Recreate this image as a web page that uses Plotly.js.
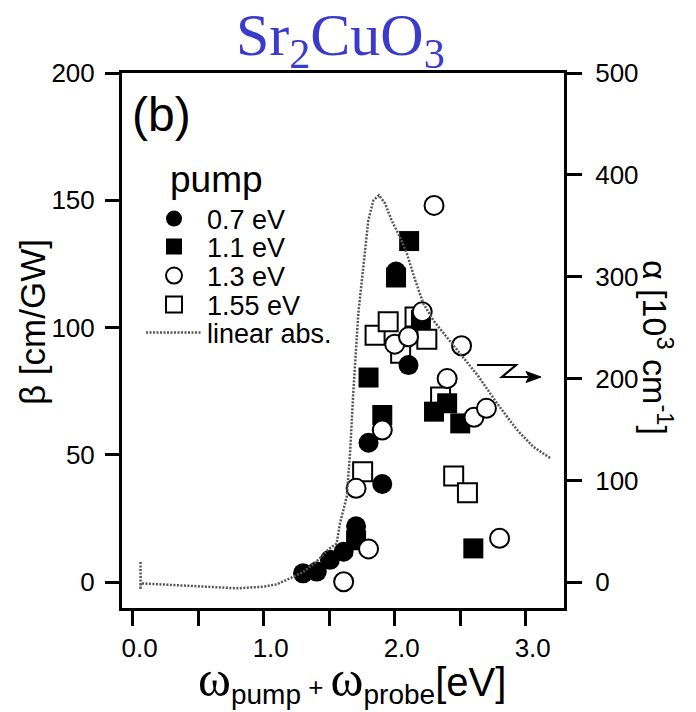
<!DOCTYPE html>
<html>
<head>
<meta charset="utf-8">
<script src="https://cdn.plot.ly/plotly-3.0.1.min.js"></script>
<style>
  html, body { margin: 0; padding: 0; background: #fff; }
  #chart { width: 696px; height: 712px; }
</style>
</head>
<body>
<div id="chart"></div>
<script>
// Two-photon absorption coefficient beta vs. summed photon energy, per pump energy
const pump07_x = [1.30, 1.405, 1.505, 1.61, 1.705, 1.80, 1.905, 2.01, 2.105];
const pump07_y = [3.5, 4.2, 8.8, 12, 22, 54.8, 38.6, 122, 85.3];

const pump11_x = [1.705, 1.80, 1.905, 2.01, 2.11, 2.20, 2.30, 2.40, 2.50, 2.60];
const pump11_y = [16.5, 80.4, 65.7, 119.7, 134, 103, 67, 70.3, 62.4, 13.3];

const pump13_x = [1.61, 1.80, 1.705, 1.905, 2.00, 2.105, 2.21, 2.30, 2.40, 2.51, 2.605, 2.70, 2.80];
const pump13_y = [0.2, 13.1, 36.9, 59.8, 93.5, 96.4, 106.2, 148, 80, 92.9, 64.8, 68.3, 17.3];

const pump155_x = [1.755, 1.85, 1.95, 2.045, 2.155, 2.245, 2.35, 2.45, 2.555];
const pump155_y = [43.4, 97, 102.3, 89.9, 104.2, 95.4, 72.8, 41.7, 35.2];

// Linear absorption spectrum alpha [10^3 cm^-1] (right axis)
const absE = [0.06, 0.06, 0.06, 0.2, 0.4, 0.6, 0.8, 1.0, 1.1, 1.2, 1.3, 1.4, 1.5, 1.557, 1.58, 1.61, 1.634, 1.659, 1.684, 1.722, 1.76, 1.798, 1.837, 1.88, 1.926, 1.977, 2.04, 2.092, 2.155, 2.218, 2.295, 2.397, 2.524, 2.64, 2.779, 2.931, 3.058, 3.186];
const absA = [20, -7, -1, -2, -3.3, -5, -5.9, -4.3, -2, 3.9, 10, 20, 33, 38, 57, 72, 84, 127, 187, 264, 313, 355, 375, 380, 372, 355, 339, 323, 297, 274, 257, 241, 221, 202, 176, 150, 133, 122];

const seriesNames = ['0.7 eV', '1.1 eV', '1.3 eV', '1.55 eV', 'linear abs.'];
const xTickVals = [0, 1, 2, 3];
const yTickVals = [0, 50, 100, 150, 200];
const y2TickVals = [0, 100, 200, 300, 400, 500];

const SANS = 'Liberation Sans, Arial, Helvetica, sans-serif';
const SERIF = 'Liberation Serif, Times New Roman, serif';

const openLine = { color: '#000', width: 2 };

const traces = [
  { x: pump155_x, y: pump155_y, name: seriesNames[3], type: 'scatter', mode: 'markers',
    marker: { symbol: 'square', size: 19, color: '#fff', line: openLine }, legend: 'legend4' },
  { x: pump11_x, y: pump11_y, name: seriesNames[1], type: 'scatter', mode: 'markers',
    marker: { symbol: 'square', size: 20, color: '#000' }, legend: 'legend2' },
  { x: pump07_x, y: pump07_y, name: seriesNames[0], type: 'scatter', mode: 'markers',
    marker: { symbol: 'circle', size: 20, color: '#000' }, legend: 'legend' },
  { x: pump13_x, y: pump13_y, name: seriesNames[2], type: 'scatter', mode: 'markers',
    marker: { symbol: 'circle', size: 19, color: '#fff', line: openLine }, legend: 'legend3' },
  { x: absE, y: absA, name: seriesNames[4], type: 'scatter', mode: 'lines', yaxis: 'y2',
    line: { color: '#555', width: 2.5, dash: '2px,1.5px' }, legend: 'legend5' }
];

// One legend per row so the rows sit at their own heights
function legendAt(yp) {
  return {
    x: 0.043, y: yp, xanchor: 'left', yanchor: 'middle',
    bgcolor: 'rgba(0,0,0,0)', borderwidth: 0,
    font: { family: SANS, size: 27, color: '#000' },
    itemwidth: 56, itemclick: false, itemdoubleclick: false
  };
}

const PX = (px) => (px - 122) / 442;   // pixel x -> paper x
const PY = (py) => (608 - py) / 535;   // pixel y -> paper y

const layout = {
  width: 696, height: 712,
  margin: { l: 122, r: 132, t: 73, b: 104, pad: 0 },
  paper_bgcolor: '#fff', plot_bgcolor: '#fff',
  font: { family: SANS, size: 26, color: '#000' },
  showlegend: true,
  legend: legendAt(PY(219)),
  legend2: legendAt(PY(247)),
  legend3: legendAt(PY(276)),
  legend4: legendAt(PY(305)),
  legend5: legendAt(PY(333)),
  title: {
    text: 'Sr<sub>2</sub>CuO<sub>3</sub>',
    font: { family: SERIF, size: 60, color: '#3a3acb' },
    x: 0.489, xref: 'container', xanchor: 'center',
    y: 1 - 34 / 712, yref: 'container', yanchor: 'middle'
  },
  xaxis: {
    range: [-0.0817, 3.292], tickvals: xTickVals, tickformat: '.1f',
    ticks: 'outside', ticklen: 15, tickwidth: 3, tickcolor: '#000',
    minor: { dtick: 0.5, tick0: 0, ticks: 'outside', ticklen: 15, tickwidth: 3, tickcolor: '#000', showgrid: false },
    showline: true, linewidth: 3, linecolor: '#000', mirror: true,
    showgrid: false, zeroline: false, ticklabelshift: 7,
    tickfont: { family: SANS, size: 26, color: '#000' }
  },
  yaxis: {
    range: [-10.1, 200], tickvals: yTickVals,
    ticks: 'outside', ticklen: 14, tickwidth: 3, tickcolor: '#000',
    showline: true, linewidth: 3, linecolor: '#000',
    showgrid: false, zeroline: false, ticklabelstandoff: 5,
    tickfont: { family: SANS, size: 26, color: '#000' }
  },
  yaxis2: {
    range: [-25.25, 500], tickvals: y2TickVals, overlaying: 'y', side: 'right', anchor: 'x',
    ticks: 'outside', ticklen: 15, tickwidth: 3, tickcolor: '#000',
    showline: true, linewidth: 3, linecolor: '#000',
    showgrid: false, zeroline: false, ticklabelstandoff: 8,
    tickfont: { family: SANS, size: 26, color: '#000' }
  },
  annotations: [
    { text: '(b)', xref: 'paper', yref: 'paper', x: PX(130), y: PY(114),
      xanchor: 'left', yanchor: 'middle', showarrow: false,
      font: { family: SANS, size: 48, color: '#000' } },
    { text: 'pump', xref: 'paper', yref: 'paper', x: PX(168), y: PY(180),
      xanchor: 'left', yanchor: 'middle', showarrow: false,
      font: { family: SANS, size: 37, color: '#000' } },
    { text: 'β [cm/GW]', xref: 'paper', yref: 'paper', x: PX(32), y: PY(322),
      xanchor: 'center', yanchor: 'middle', textangle: -90, showarrow: false,
      font: { family: SANS, size: 35, color: '#000' } },
    { text: 'α [10<sup>3</sup> cm<sup>-1</sup>]', xref: 'paper', yref: 'paper', x: PX(657), y: PY(347),
      xanchor: 'center', yanchor: 'middle', textangle: 90, showarrow: false,
      font: { family: SANS, size: 34, color: '#000' } },
    { text: '<span style="font-family:Liberation Serif;font-size:50px">ω</span><sub>pump</sub>' +
            '<span style="font-size:26px"> + </span>' +
            '<span style="font-family:Liberation Serif;font-size:50px">ω</span><sub>probe</sub>[eV]',
      xref: 'paper', yref: 'paper', x: PX(352), y: PY(680),
      xanchor: 'center', yanchor: 'middle', showarrow: false,
      font: { family: SANS, size: 40, color: '#000' } }
  ],
  shapes: [
    // zig-zag pointer toward the right-hand axis
    { type: 'path', xref: 'paper', yref: 'paper',
      path: `M ${PX(477)} ${PY(365)} L ${PX(516)} ${PY(365)} L ${PX(502)} ${PY(377)} L ${PX(528)} ${PY(377)}`,
      line: { color: '#000', width: 2.2 } },
    { type: 'path', xref: 'paper', yref: 'paper',
      path: `M ${PX(541)} ${PY(377)} L ${PX(526)} ${PY(371.5)} L ${PX(529)} ${PY(377)} L ${PX(526)} ${PY(382.5)} Z`,
      fillcolor: '#000', line: { color: '#000', width: 1 } }
  ]
};

Plotly.newPlot('chart', traces, layout, { displayModeBar: false, staticPlot: true });
</script>
</body>
</html>
